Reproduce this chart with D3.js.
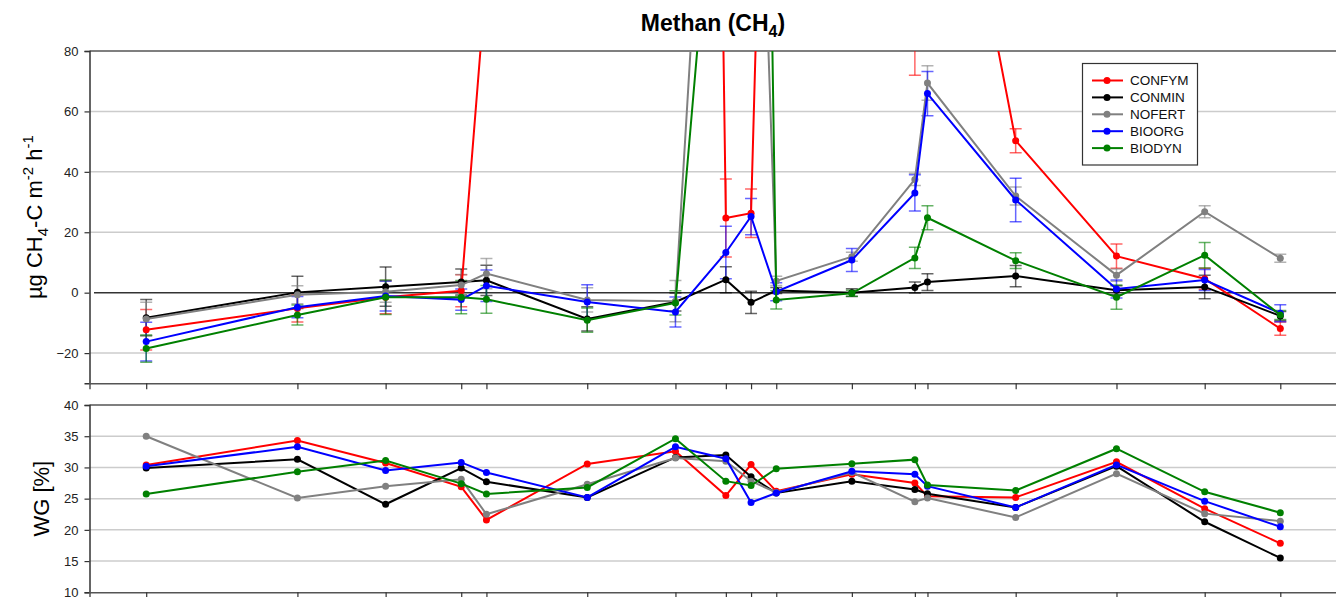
<!DOCTYPE html>
<html>
<head>
<meta charset="utf-8">
<script src="https://cdn.jsdelivr.net/npm/d3@7"></script>
<style>
  html, body { margin: 0; padding: 0; background: #fff; }
  svg { display: block; font-family: Arial, "Liberation Sans", sans-serif; }
</style>
</head>
<body>
<svg id="chart" width="1336" height="597"></svg>
<script>
// ---- Data ----
const seriesNames = ["CONFYM", "CONMIN", "NOFERT", "BIOORG", "BIODYN"];
const seriesColors = ["#ff0000", "#000000", "#808080", "#0000ff", "#008000"];
// sampling days (relative day number)
const days = [0, 12, 19, 25, 27, 35, 42, 46, 48, 50, 56, 61, 62, 69, 77, 84, 90];

// Methane flux (µg CH4-C m-2 h-1)
const ch4CONFYM = [-12.3, -5.2, -1.5, 0.6, 105, 250, 1200, 24.7, 26.3, 330, 150, 90, 202, 50.3, 12.1, 4.6, -11.9];
const ch4CONMIN = [-8.3, 0.1, 2.0, 3.5, 4.1, -8.7, -3.1, 4.3, -3.2, 0.7, 0.0, 1.7, 3.5, 5.5, 0.8, 1.9, -7.7];
const ch4NOFERT = [-8.7, -0.7, 0.3, 2.5, 6.3, -2.4, -2.8, 275, 250, 3.9, 11.9, 37.5, 69.4, 32.0, 5.8, 26.8, 11.4];
const ch4BIOORG = [-16.2, -4.8, -1.1, -2.3, 2.3, -3.1, -6.4, 13.3, 25.2, 0.3, 10.8, 33.0, 65.9, 30.7, 1.2, 4.2, -6.8];
const ch4BIODYN = [-18.5, -7.4, -1.5, -1.5, -2.2, -9.1, -3.4, 190, 540, -2.4, -0.2, 11.5, 24.8, 10.6, -1.5, 12.4, -7.4];

// Standard errors
const errCONFYM = [6.7, 4.5, 5.5, 5.3, 10, 30, 150, 12.9, 8.0, 40, 20, 18, 25, 4.0, 4.0, 3.5, 2.2];
const errCONMIN = [6.0, 5.3, 6.5, 4.3, 5.0, 4.0, 3.0, 4.3, 3.7, 1.0, 1.3, 1.8, 2.8, 3.5, 1.5, 3.9, 1.5];
const errNOFERT = [5.5, 3.0, 3.5, 3.5, 5.0, 4.0, 6.8, 30, 30, 1.5, 1.5, 2.0, 5.7, 3.0, 2.0, 2.0, 1.3];
const errBIOORG = [6.4, 3.5, 5.0, 3.5, 5.2, 5.7, 5.0, 8.7, 6.0, 3.0, 3.8, 6.0, 7.3, 7.2, 3.0, 3.5, 2.8];
const errBIODYN = [4.5, 3.3, 5.7, 5.5, 4.6, 4.0, 4.0, 25, 50, 3.0, 1.0, 3.5, 4.0, 2.6, 4.0, 4.2, 1.5];

// Water content WG [%]
const wgCONFYM = [30.4, 34.3, 30.7, 26.9, 21.6, 30.55, 32.6, 25.5, 30.45, 26.2, 28.9, 27.5, 25.4, 25.2, 30.9, 23.4, 17.85];
const wgCONMIN = [29.9, 31.3, 24.1, 29.9, 27.7, 25.2, 31.6, 32.0, 28.5, 25.9, 27.8, 26.45, 25.8, 23.6, 30.2, 21.3, 15.5];
const wgNOFERT = [35.0, 25.1, 27.0, 28.1, 22.5, 27.3, 31.5, 31.0, 27.8, 26.0, 29.2, 24.5, 25.1, 22.0, 29.0, 22.6, 21.4];
const wgBIOORG = [30.2, 33.3, 29.5, 30.8, 29.2, 25.2, 33.3, 31.4, 24.4, 25.9, 29.4, 28.9, 27.0, 23.6, 30.4, 24.6, 20.5];
const wgBIODYN = [25.75, 29.3, 31.1, 27.4, 25.75, 26.8, 34.6, 27.8, 27.1, 29.8, 30.6, 31.25, 27.2, 26.3, 33.0, 26.1, 22.75];

const ch4Ticks = [-20, 0, 20, 40, 60, 80];
const wgTicks = [10, 15, 20, 25, 30, 35, 40];

const ch4Series = [ch4CONFYM, ch4CONMIN, ch4NOFERT, ch4BIOORG, ch4BIODYN];
const errSeries = [errCONFYM, errCONMIN, errNOFERT, errBIOORG, errBIODYN];
const wgSeries = [wgCONFYM, wgCONMIN, wgNOFERT, wgBIOORG, wgBIODYN];

// ---- Layout ----
const svg = d3.select("#chart");
const left = 89.5, right = 1337;
const x = d3.scaleLinear().domain([-4.5, 94.5]).range([left, right]);
const yTop = d3.scaleLinear().domain([-30, 80]).range([383.3, 51]);
const yBot = d3.scaleLinear().domain([10, 40]).range([592.3, 405]);

const gridColor = "#cccccc";
const axisColor = "#555555";
const fontSize = 13;

svg.append("defs").append("clipPath").attr("id", "clipTop")
  .append("rect").attr("x", left).attr("y", yTop(80)).attr("width", right - left).attr("height", yTop(-30) - yTop(80));

// ---- Title ----
const title = svg.append("text").attr("x", 713).attr("y", 31).attr("text-anchor", "middle")
  .attr("font-size", 23).attr("font-weight", "bold").attr("fill", "#000");
title.append("tspan").text("Methan (CH");
title.append("tspan").attr("font-size", 16).attr("dy", 6).text("4");
title.append("tspan").attr("dy", -6).text(")");

// ---- Panel helper ----
function drawPanel(y, ticks, yTopVal, zeroLine) {
  const g = svg.append("g");
  g.selectAll("line.grid").data(ticks.filter(t => t !== yTopVal && t !== y.domain()[0] && !(zeroLine && t === 0)))
    .enter().append("line")
    .attr("x1", left).attr("x2", right)
    .attr("y1", d => y(d)).attr("y2", d => y(d))
    .attr("stroke", gridColor).attr("stroke-width", 1.5);
  g.append("line").attr("x1", left).attr("x2", right)
    .attr("y1", y(yTopVal)).attr("y2", y(yTopVal))
    .attr("stroke", "#555").attr("stroke-width", 1.5);
  const axL = d3.axisLeft(y).tickValues(ticks).tickSize(5).tickPadding(6).tickFormat(d3.format("d"));
  const ga = g.append("g").attr("transform", `translate(${left},0)`).call(axL);
  ga.select(".domain").attr("stroke", "#333").attr("stroke-width", 1.5);
  ga.selectAll(".tick line").attr("stroke", "#333").attr("stroke-width", 1.2);
  ga.selectAll(".tick text").attr("font-size", fontSize).attr("fill", "#222")
    .attr("font-family", "Arial, 'Liberation Sans', sans-serif");
  const axB = d3.axisBottom(x).tickValues(days).tickSize(6).tickFormat("");
  const gb = g.append("g").attr("transform", `translate(0,${y.range()[0]})`).call(axB);
  gb.select(".domain").attr("stroke", axisColor).attr("stroke-width", 1.5);
  gb.selectAll(".tick line").attr("stroke", "#333").attr("stroke-width", 1.2);
  return g;
}

// ---- Top panel ----
drawPanel(yTop, ch4Ticks, 80, true);
svg.append("line").attr("x1", 94).attr("x2", right).attr("y1", yTop(0)).attr("y2", yTop(0))
  .attr("stroke", "#333").attr("stroke-width", 1.5);

const topData = ch4Series.map((vals, i) => ({
  name: seriesNames[i], color: seriesColors[i],
  pts: vals.map((v, j) => ({ d: days[j], v: v, e: errSeries[i][j] }))
}));

const gTop = svg.append("g").attr("clip-path", "url(#clipTop)");
const lineTop = d3.line().x(p => x(p.d)).y(p => yTop(p.v));
topData.forEach(s => {
  const eg = gTop.append("g").attr("stroke", s.color).attr("stroke-width", 1.5).attr("stroke-opacity", 0.6);
  eg.selectAll("line.stem").data(s.pts).enter().append("line")
    .attr("x1", p => x(p.d)).attr("x2", p => x(p.d))
    .attr("y1", p => yTop(p.v + p.e)).attr("y2", p => yTop(p.v - p.e));
  eg.selectAll("line.capT").data(s.pts).enter().append("line")
    .attr("x1", p => x(p.d) - 6).attr("x2", p => x(p.d) + 6)
    .attr("y1", p => yTop(p.v + p.e)).attr("y2", p => yTop(p.v + p.e));
  eg.selectAll("line.capB").data(s.pts).enter().append("line")
    .attr("x1", p => x(p.d) - 6).attr("x2", p => x(p.d) + 6)
    .attr("y1", p => yTop(p.v - p.e)).attr("y2", p => yTop(p.v - p.e));
});
topData.forEach(s => {
  gTop.append("path").datum(s.pts).attr("d", lineTop)
    .attr("fill", "none").attr("stroke", s.color).attr("stroke-width", 2);
  gTop.selectAll(null).data(s.pts).enter().append("circle")
    .attr("cx", p => x(p.d)).attr("cy", p => yTop(p.v)).attr("r", 3.5).attr("fill", s.color);
});

// ---- Bottom panel ----
drawPanel(yBot, wgTicks, 40, false);
const lineBot = d3.line().x(p => x(p.d)).y(p => yBot(p.v));
wgSeries.forEach((vals, i) => {
  const pts = vals.map((v, j) => ({ d: days[j], v: v }));
  svg.append("path").datum(pts).attr("d", lineBot)
    .attr("fill", "none").attr("stroke", seriesColors[i]).attr("stroke-width", 2);
  svg.selectAll(null).data(pts).enter().append("circle")
    .attr("cx", p => x(p.d)).attr("cy", p => yBot(p.v)).attr("r", 3.5).attr("fill", seriesColors[i]);
});

// ---- Axis titles ----
const yl = svg.append("text").attr("transform", `translate(42,${(yTop(80) + yTop(-30)) / 2}) rotate(-90)`)
  .attr("text-anchor", "middle").attr("font-size", 22).attr("fill", "#000");
yl.append("tspan").text("µg CH");
yl.append("tspan").attr("font-size", 15).attr("dy", 6).text("4");
yl.append("tspan").attr("dy", -6).text("-C m");
yl.append("tspan").attr("font-size", 15).attr("dy", -9).text("-2");
yl.append("tspan").attr("dy", 9).text(" h");
yl.append("tspan").attr("font-size", 15).attr("dy", -9).text("-1");

svg.append("text").attr("transform", `translate(49,${(yBot(40) + yBot(10)) / 2}) rotate(-90)`)
  .attr("text-anchor", "middle").attr("font-size", 22).attr("fill", "#000").text("WG [%]");

// ---- Legend ----
const lg = svg.append("g");
lg.append("rect").attr("x", 1082.5).attr("y", 63.5).attr("width", 115).attr("height", 101.5)
  .attr("fill", "#fff").attr("stroke", "#333").attr("stroke-width", 1.2);
seriesNames.forEach((n, i) => {
  const yy = 80.5 + i * 16.9;
  lg.append("line").attr("x1", 1092).attr("x2", 1123).attr("y1", yy).attr("y2", yy)
    .attr("stroke", seriesColors[i]).attr("stroke-width", 2);
  lg.append("circle").attr("cx", 1107).attr("cy", yy).attr("r", 3.5).attr("fill", seriesColors[i]);
  lg.append("text").attr("x", 1130).attr("y", yy).attr("dy", "0.36em")
    .attr("font-size", 13.5).attr("fill", "#111").text(n);
});
</script>
</body>
</html>
